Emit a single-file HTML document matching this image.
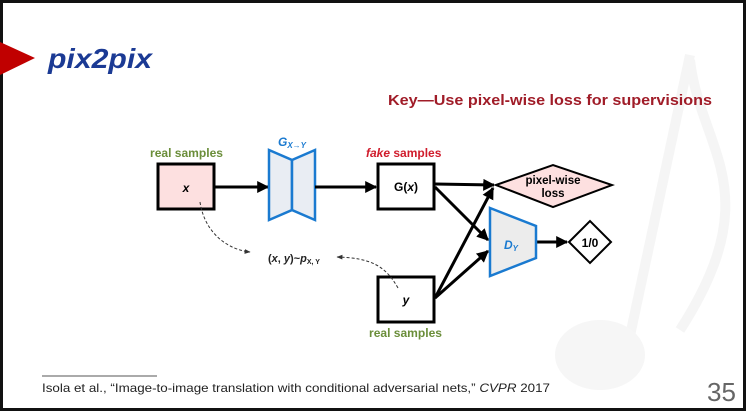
<!DOCTYPE html>
<html><head><meta charset="utf-8"><style>
html,body{margin:0;padding:0;background:#fff;}
svg{display:block;}
text{font-family:"Liberation Sans",sans-serif;}
</style></head><body>
<svg width="748" height="412" viewBox="0 0 748 412" xmlns="http://www.w3.org/2000/svg">
<defs>
<marker id="ah" viewBox="0 0 10 10" refX="9" refY="5" markerWidth="4" markerHeight="4" orient="auto"><path d="M0,0 L10,5 L0,10 z" fill="#000"/></marker>
<marker id="sh" viewBox="0 0 10 10" refX="9" refY="5" markerWidth="6" markerHeight="6" orient="auto"><path d="M0,1 L10,5 L0,9 z" fill="#333"/></marker>
</defs>
<rect x="0" y="0" width="748" height="412" fill="#fff"/>
<!-- watermark note -->
<g fill="none" stroke="#f5f5f5" stroke-width="10">
<path d="M690,55 L628,345"/>
<path d="M690,60 C700,150 770,190 680,330"/>
</g>
<ellipse cx="600" cy="355" rx="45" ry="35" fill="#f6f6f6"/>
<!-- frame -->
<rect x="1.5" y="1.5" width="743" height="408" fill="none" stroke="#111" stroke-width="3"/>
<!-- title -->
<polygon points="0,42 35,58 0,75" fill="#c00000"/>
<text x="48" y="68" font-size="28" font-weight="bold" font-style="italic" fill="#1b3a94" textLength="104" lengthAdjust="spacingAndGlyphs">pix2pix</text>
<text x="388" y="105" font-size="15" font-weight="bold" fill="#a01c28" textLength="324" lengthAdjust="spacingAndGlyphs">Key—Use pixel-wise loss for supervisions</text>
<!-- boxes -->
<text x="150" y="157" font-size="12" font-weight="bold" fill="#6b8e3a" textLength="73" lengthAdjust="spacingAndGlyphs">real samples</text>
<rect x="158" y="164" width="56" height="45" fill="#fde0e0" stroke="#000" stroke-width="3"/>
<text x="186" y="192" font-size="12" font-weight="bold" font-style="italic" text-anchor="middle">x</text>
<line x1="215" y1="187" x2="268" y2="187" stroke="#000" stroke-width="3" marker-end="url(#ah)"/>
<!-- generator -->
<polygon points="269,150 292,160 292,210 269,220" fill="#e9edf3" stroke="#1a7ad0" stroke-width="2.5"/>
<polygon points="292,160 315,150 315,220 292,210" fill="#e9edf3" stroke="#1a7ad0" stroke-width="2.5"/>
<text x="278" y="146" font-size="12" font-weight="bold" font-style="italic" fill="#1a7ad0">G<tspan font-size="8" dy="2">X→Y</tspan></text>
<line x1="315" y1="187" x2="376" y2="187" stroke="#000" stroke-width="3" marker-end="url(#ah)"/>
<text x="366" y="157" font-size="12" font-weight="bold" fill="#d01c2c"><tspan font-style="italic">fake</tspan> samples</text>
<rect x="378" y="164" width="56" height="45" fill="#fff" stroke="#000" stroke-width="3"/>
<text x="406" y="191" font-size="12" font-weight="bold" text-anchor="middle">G(<tspan font-style="italic">x</tspan>)</text>
<rect x="378" y="277" width="56" height="45" fill="#fff" stroke="#000" stroke-width="3"/>
<text x="406" y="304" font-size="12" font-weight="bold" font-style="italic" text-anchor="middle">y</text>
<text x="369" y="337" font-size="12" font-weight="bold" fill="#6b8e3a" textLength="73" lengthAdjust="spacingAndGlyphs">real samples</text>
<!-- dashed -->
<path d="M200,202 C205,235 230,250 250,252" fill="none" stroke="#333" stroke-width="1" stroke-dasharray="3,2" marker-end="url(#sh)"/>
<path d="M398,288 C385,265 370,258 337,257" fill="none" stroke="#333" stroke-width="1" stroke-dasharray="3,2" marker-end="url(#sh)"/>
<text x="268" y="262" font-size="11" font-weight="bold" fill="#222">(<tspan font-style="italic">x</tspan>, <tspan font-style="italic">y</tspan>)~<tspan font-style="italic">p</tspan><tspan font-size="7" dy="2">X, Y</tspan></text>
<!-- connectors -->
<g stroke="#000" stroke-width="3" marker-end="url(#ah)">
<line x1="435" y1="184" x2="494" y2="185"/>
<line x1="435" y1="187" x2="488" y2="240"/>
<line x1="435" y1="298" x2="493" y2="188"/>
<line x1="435" y1="298" x2="488" y2="251"/>
<line x1="536" y1="242" x2="567" y2="242"/>
</g>
<polygon points="496,185 553,165 612,185 553,207" fill="#fde0e0" stroke="#000" stroke-width="2"/>
<text x="553" y="184" font-size="11.5" font-weight="bold" text-anchor="middle">pixel-wise</text>
<text x="553" y="197" font-size="11.5" font-weight="bold" text-anchor="middle">loss</text>
<polygon points="490,208 536,226 536,258 490,276" fill="#ececec" stroke="#1a7ad0" stroke-width="2.5"/>
<text x="504" y="249" font-size="12" font-weight="bold" font-style="italic" fill="#1a7ad0">D<tspan font-size="8" dy="2">Y</tspan></text>
<polygon points="569,242 590,221 611,242 590,263" fill="#fff" stroke="#000" stroke-width="2"/>
<text x="590" y="247" font-size="12" font-weight="bold" text-anchor="middle">1/0</text>
<!-- footer -->
<line x1="42" y1="376" x2="157" y2="376" stroke="#555" stroke-width="1"/>
<text x="42" y="392" font-size="12" fill="#222" textLength="508" lengthAdjust="spacingAndGlyphs">Isola et al., “Image-to-image translation with conditional adversarial nets,” <tspan font-style="italic">CVPR</tspan> 2017</text>
<text x="707" y="401" font-size="26" fill="#666">35</text>
</svg>
</body></html>
